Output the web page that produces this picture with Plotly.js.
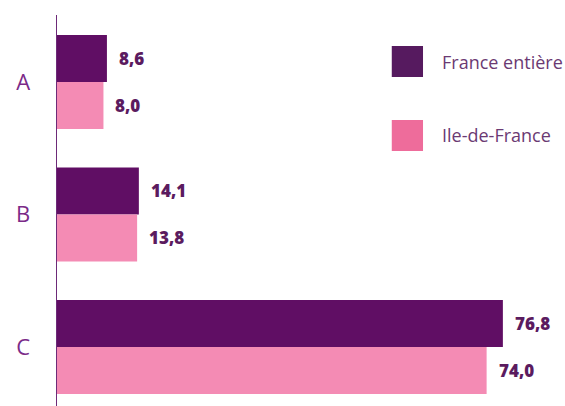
<!DOCTYPE html>
<html>
<head>
<meta charset="utf-8">
<script src="https://cdn.plot.ly/plotly-3.0.1.min.js"></script>
<style>html,body{margin:0;padding:0;background:#fff}#chart{width:565px;height:406px}</style>
</head>
<body>
<div id="chart"></div>
<script>
const categories = ['A', 'B', 'C'];
const seriesNames = ['France entière', 'Ile-de-France'];
const franceEntiere = [8.6, 14.1, 76.8];
const ileDeFrance = [8.0, 13.8, 74.0];

const barColors = ['#600e64', '#f48bb4'];
const legendColors = ['#561a5f', '#ee6c9b'];
const labelColor = '#5b1b5f';
const series = [franceEntiere, ileDeFrance];

const fmt = v => v.toFixed(1).replace('.', ',');

const traces = series.map((vals, i) => ({
  type: 'bar',
  orientation: 'h',
  name: seriesNames[i],
  y: categories,
  x: vals,
  marker: {color: barColors[i]},
  hoverinfo: 'skip',
  showlegend: false
}));

const annotations = [];
series.forEach((vals, i) => {
  vals.forEach((v, j) => {
    annotations.push({
      x: v, y: categories[j], xref: 'x', yref: 'y',
      text: fmt(v), showarrow: false,
      xanchor: 'left', yanchor: 'middle',
      xshift: 10, yshift: i === 0 ? 24 : -23,
      font: {family: 'Open Sans, sans-serif', size: 17, color: labelColor, weight: 800}
    });
  });
});

const shapes = [];
const legendY = [[0.9207, 0.8414], [0.7315, 0.6522]];
seriesNames.forEach((n, i) => {
  shapes.push({type: 'rect', xref: 'paper', yref: 'paper', x0: 0.659, x1: 0.7205,
    y0: legendY[i][1], y1: legendY[i][0], fillcolor: legendColors[i], line: {width: 0}});
  annotations.push({xref: 'paper', yref: 'paper', x: 0.754, y: (legendY[i][0] + legendY[i][1]) / 2,
    xanchor: 'left', yanchor: 'middle', showarrow: false, text: n,
    font: {family: 'Open Sans, sans-serif', size: 18, color: '#6b3a73'}});
});

const layout = {
  width: 565, height: 406,
  margin: {l: 57, r: 0, t: 15, b: 0},
  paper_bgcolor: '#fff', plot_bgcolor: '#fff',
  barmode: 'group', bargap: 0.29, bargroupgap: 0,
  showlegend: false,
  xaxis: {range: [0, 87.5], showgrid: false, zeroline: false, showticklabels: false, showline: false, ticks: ''},
  yaxis: {type: 'category', range: [2.445, -0.506], showgrid: false, zeroline: false,
    showline: true, linecolor: '#6d2a78', linewidth: 1.5, ticks: '',
    ticklabelstandoff: 21,
    tickfont: {family: 'Open Sans, sans-serif', size: 22, color: '#7b2a88'}},
  shapes: shapes,
  annotations: annotations
};

Plotly.newPlot('chart', traces, layout, {displayModeBar: false, staticPlot: true});
</script>
</body>
</html>
